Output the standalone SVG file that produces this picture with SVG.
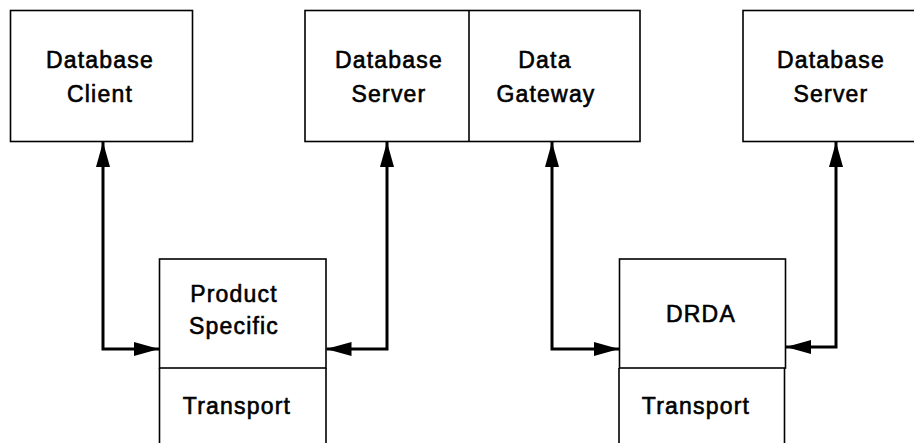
<svg xmlns="http://www.w3.org/2000/svg" width="914" height="443" viewBox="0 0 914 443">
  <style>
    .box { fill: #ffffff; stroke: #000000; stroke-width: 1.6; }
    .div { fill: none; stroke: #000000; stroke-width: 1.6; }
    .lbl { font-family: "Liberation Sans", Arial, Helvetica, sans-serif; font-size: 23px; fill: #000000; stroke: #000000; stroke-width: 0.6; text-anchor: middle; letter-spacing: 1.2px; }
    .wire { fill: none; stroke: #000000; stroke-width: 3; stroke-linejoin: miter; }
  </style>
  <defs>
    <marker id="head" viewBox="0 0 25 14" refX="25" refY="7" markerWidth="25" markerHeight="14" markerUnits="userSpaceOnUse" orient="auto-start-reverse">
      <path d="M0,0 L25,7 L0,14 Z" fill="#000000"/>
    </marker>
  </defs>
  <rect width="914" height="443" fill="#ffffff"/>

  <g id="database-client">
    <rect class="box" x="10.5" y="10.5" width="182" height="131"/>
    <text class="lbl" x="100" y="68">Database</text>
    <text class="lbl" x="100" y="102">Client</text>
  </g>

  <g id="server-gateway">
    <rect class="box" x="305" y="10.5" width="335" height="131"/>
    <line class="div" x1="469" y1="10.5" x2="469" y2="141.5"/>
    <text class="lbl" x="389" y="68">Database</text>
    <text class="lbl" x="389" y="102">Server</text>
    <text class="lbl" x="545" y="68">Data</text>
    <text class="lbl" x="546" y="102">Gateway</text>
  </g>

  <g id="database-server">
    <rect class="box" x="743" y="10.5" width="190" height="131"/>
    <text class="lbl" x="831" y="68">Database</text>
    <text class="lbl" x="831" y="102">Server</text>
  </g>

  <g id="product-stack">
    <rect class="box" x="159.5" y="259" width="166.5" height="109"/>
    <path class="div" d="M159.5,368 V450 M326,368 V450"/>
    <text class="lbl" x="234" y="302">Product</text>
    <text class="lbl" x="234" y="334">Specific</text>
    <text class="lbl" x="237" y="414">Transport</text>
  </g>

  <g id="drda-stack">
    <rect class="box" x="619.5" y="259" width="166" height="109"/>
    <path class="div" d="M619,368 V450 M784.5,368 V450"/>
    <text class="lbl" x="701" y="322">DRDA</text>
    <text class="lbl" x="696" y="414">Transport</text>
  </g>

  <g id="connectors">
    <path class="wire" d="M103,142 V349 H159" marker-start="url(#head)" marker-end="url(#head)"/>
    <path class="wire" d="M387,142 V349 H326.5" marker-start="url(#head)" marker-end="url(#head)"/>
    <path class="wire" d="M552,142 V349 H619" marker-start="url(#head)" marker-end="url(#head)"/>
    <path class="wire" d="M836,142 V347 H786" marker-start="url(#head)" marker-end="url(#head)"/>
  </g>
</svg>
